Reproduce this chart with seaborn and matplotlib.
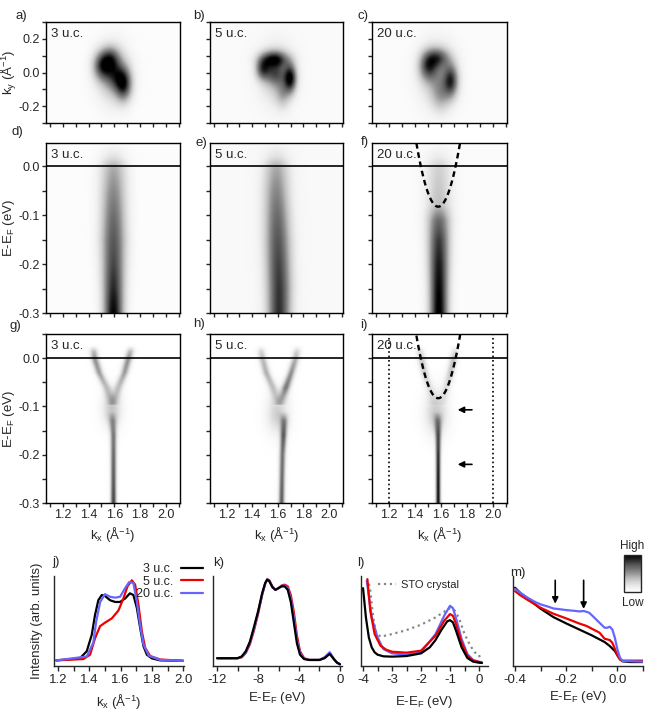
import numpy as np
import matplotlib
matplotlib.use('Agg')
import matplotlib.pyplot as plt
import seaborn as sns
from matplotlib import font_manager
from matplotlib.ticker import MultipleLocator, NullFormatter, FormatStrFormatter

sns.set_style('ticks')
installed = {f.name for f in font_manager.fontManager.ttflist}
base_font = 'Liberation Sans Narrow' if 'Liberation Sans Narrow' in installed else 'Liberation Sans'
plt.rcParams['font.family'] = [base_font, 'DejaVu Sans']
plt.rcParams['mathtext.fontset'] = 'custom'
plt.rcParams['mathtext.rm'] = base_font
plt.rcParams['mathtext.it'] = base_font + ':italic'
plt.rcParams['mathtext.default'] = 'regular'
plt.rcParams['axes.unicode_minus'] = False
plt.rcParams['font.size'] = 9.5

# ---------------- data ----------------
labels_uc = ['3 u.c.', '5 u.c.', '20 u.c.']

# constant energy maps: gaussian spots (kx, ky, sx, sy, amp)
a_kx = [1.59, 1.50, 1.57, 1.67, 1.60]
a_ky = [-0.01, 0.04, 0.085, -0.07, -0.02]
a_sx = [0.09, 0.05, 0.05, 0.045, 0.05]
a_sy = [0.12, 0.06, 0.05, 0.07, 0.06]
a_amp = [0.4, 0.6, 0.45, 0.7, 0.3]

b_kx = [1.59, 1.57, 1.48, 1.70, 1.58, 1.64]
b_ky = [-0.01, 0.08, 0.02, -0.035, -0.01, -0.13]
b_sx = [0.09, 0.075, 0.04, 0.035, 0.055, 0.04]
b_sy = [0.115, 0.035, 0.045, 0.06, 0.045, 0.06]
b_amp = [0.35, 0.7, 0.55, 0.8, 0.35, 0.25]

c_kx = [1.575, 1.50, 1.58, 1.68, 1.60]
c_ky = [-0.01, 0.04, 0.09, -0.05, -0.14]
c_sx = [0.095, 0.05, 0.06, 0.04, 0.05]
c_sy = [0.125, 0.06, 0.04, 0.07, 0.07]
c_amp = [0.38, 0.55, 0.45, 0.65, 0.25]

# raw band maps: band centre / width / intensity at energy nodes
d_e = [-0.3, -0.25, -0.2, -0.15, -0.1, -0.05, 0.0, 0.02, 0.045]
d_k = [1.59, 1.59, 1.59, 1.59, 1.59, 1.59, 1.59, 1.59, 1.59]
d_w = [0.055, 0.06, 0.065, 0.07, 0.07, 0.072, 0.075, 0.075, 0.075]
d_a = [0.97, 0.85, 0.76, 0.7, 0.62, 0.52, 0.4, 0.18, 0.04]

e_e = [-0.3, -0.25, -0.2, -0.15, -0.1, -0.05, 0.0, 0.02, 0.045]
e_k = [1.61, 1.61, 1.605, 1.60, 1.595, 1.59, 1.59, 1.59, 1.59]
e_w = [0.065, 0.068, 0.07, 0.072, 0.072, 0.072, 0.072, 0.072, 0.072]
e_a = [0.8, 0.78, 0.74, 0.68, 0.6, 0.5, 0.38, 0.16, 0.04]

f_e = [-0.3, -0.25, -0.2, -0.15, -0.11, -0.08, 0.0, 0.02, 0.045]
f_k = [1.585, 1.585, 1.585, 1.585, 1.585, 1.585, 1.585, 1.585, 1.585]
f_w = [0.05, 0.052, 0.056, 0.06, 0.065, 0.07, 0.072, 0.072, 0.072]
f_a = [1.0, 0.95, 0.88, 0.78, 0.62, 0.33, 0.25, 0.12, 0.03]

# second derivative maps: stem + two arms + blob
stem_e = [-0.3, -0.25, -0.2, -0.16, -0.13, -0.11]
g_stem_k = [1.59, 1.59, 1.59, 1.59, 1.585, 1.58]
g_stem_w = [0.016, 0.016, 0.017, 0.018, 0.022, 0.027]
g_stem_a = [0.8, 0.72, 0.66, 0.58, 0.36, 0.0]
h_stem_k = [1.63, 1.633, 1.637, 1.645, 1.65, 1.65]
h_stem_w = [0.017, 0.017, 0.018, 0.019, 0.022, 0.027]
h_stem_a = [0.7, 0.65, 0.62, 0.66, 0.42, 0.0]
i_stem_k = [1.58, 1.58, 1.58, 1.58, 1.578, 1.575]
i_stem_w = [0.013, 0.013, 0.014, 0.016, 0.021, 0.026]
i_stem_a = [0.95, 0.92, 0.84, 0.68, 0.38, 0.0]

arm_e = [-0.095, -0.06, -0.03, 0.0, 0.015, 0.028]
arm_w = [0.027, 0.025, 0.023, 0.023, 0.023, 0.023]
g_left_k = [1.575, 1.535, 1.48, 1.445, 1.438, 1.435]
g_left_a = [0.1, 0.33, 0.48, 0.52, 0.38, 0.0]
g_right_k = [1.595, 1.63, 1.675, 1.705, 1.72, 1.725]
g_right_a = [0.1, 0.33, 0.48, 0.52, 0.38, 0.0]
h_left_k = [1.60, 1.56, 1.51, 1.48, 1.47, 1.47]
h_left_a = [0.1, 0.33, 0.42, 0.38, 0.27, 0.0]
h_right_k = [1.625, 1.665, 1.705, 1.74, 1.75, 1.755]
h_right_a = [0.15, 0.58, 0.52, 0.42, 0.28, 0.0]
i_left_k = [1.545, 1.51, 1.475, 1.45, 1.44, 1.44]
i_left_a = [0.05, 0.18, 0.3, 0.33, 0.22, 0.0]
i_right_k = [1.615, 1.645, 1.675, 1.70, 1.71, 1.715]
i_right_a = [0.05, 0.2, 0.33, 0.35, 0.22, 0.0]
# blob (kx, E, sx, sE, amp) for g, h, i
blob_kx = [1.578, 1.60, 1.565]
blob_e = [-0.105, -0.115, -0.115]
blob_sx = [0.052, 0.062, 0.062]
blob_se = [0.027, 0.03, 0.032]
blob_amp = [0.34, 0.3, 0.32]

# parabola guide and arrows
para_k0, para_e0, para_c = 1.58, -0.083, 4.6
para_kmin, para_kmax = 1.40, 1.76
cut_k = [1.2, 2.0]
i_arrow_e = [-0.107, -0.22]
i_arrow_tip, i_arrow_tail = 1.73, 1.84

# j) MDCs
j_k_3 = [1.19, 1.34, 1.384, 1.416, 1.437, 1.458, 1.48, 1.50, 1.533, 1.565, 1.597, 1.629, 1.66,
         1.682, 1.704, 1.725, 1.746, 1.768, 1.80, 1.853, 2.0]
j_i_3 = [0.065, 0.088, 0.17, 0.36, 0.59, 0.76, 0.82, 0.81, 0.76, 0.74, 0.74, 0.78, 0.84,
         0.82, 0.67, 0.44, 0.23, 0.13, 0.088, 0.065, 0.06]
j_k_5 = [1.19, 1.362, 1.405, 1.437, 1.469, 1.50, 1.544, 1.586, 1.618, 1.644, 1.672, 1.693,
         1.714, 1.736, 1.757, 1.789, 1.853, 2.0]
j_i_5 = [0.065, 0.08, 0.13, 0.32, 0.46, 0.50, 0.55, 0.64, 0.78, 0.92, 0.99, 0.94,
         0.71, 0.40, 0.21, 0.115, 0.075, 0.06]
j_k_20 = [1.19, 1.384, 1.426, 1.445, 1.47, 1.50, 1.533, 1.565, 1.597, 1.629, 1.655, 1.682,
          1.704, 1.725, 1.746, 1.78, 1.853, 2.0]
j_i_20 = [0.065, 0.11, 0.27, 0.52, 0.74, 0.83, 0.80, 0.79, 0.80, 0.90, 0.97, 0.96,
          0.74, 0.47, 0.25, 0.12, 0.07, 0.06]

# k) wide EDCs
k_e = [-12, -10, -9.6, -9.2, -8.8, -8.4, -8.0, -7.6, -7.3, -7.1, -6.9, -6.6, -6.3, -6.0,
       -5.7, -5.4, -5.1, -4.8, -4.5, -4.2, -3.9, -3.5, -3.0, -2.0, -1.5, -1.0, -0.6, -0.3, 0.0]
k_i_3 = [0.09, 0.09, 0.11, 0.17, 0.28, 0.45, 0.63, 0.84, 0.96, 1.0, 0.98, 0.91, 0.88, 0.90,
         0.92, 0.92, 0.88, 0.74, 0.50, 0.26, 0.13, 0.08, 0.07, 0.07, 0.09, 0.14, 0.08, 0.04, 0.02]
k_i_5 = [0.09, 0.09, 0.10, 0.15, 0.25, 0.41, 0.60, 0.82, 0.95, 1.0, 0.99, 0.92, 0.88, 0.90,
         0.93, 0.94, 0.92, 0.82, 0.62, 0.35, 0.17, 0.09, 0.07, 0.07, 0.10, 0.15, 0.08, 0.04, 0.02]
k_i_20 = [0.09, 0.09, 0.105, 0.16, 0.27, 0.43, 0.62, 0.83, 0.955, 1.0, 0.985, 0.915, 0.88, 0.90,
          0.925, 0.93, 0.90, 0.78, 0.56, 0.30, 0.15, 0.085, 0.07, 0.07, 0.10, 0.16, 0.085, 0.04, 0.02]

# l) valence band EDCs
l_e_3 = [-4.0, -3.9, -3.8, -3.7, -3.6, -3.5, -3.3, -3.0, -2.5, -2.0, -1.7, -1.5, -1.3, -1.1,
         -1.0, -0.9, -0.8, -0.6, -0.4, -0.2, 0.0, 0.1]
l_i_3 = [0.90, 0.56, 0.33, 0.215, 0.158, 0.131, 0.112, 0.108, 0.115, 0.146, 0.215, 0.30, 0.415,
         0.515, 0.53, 0.504, 0.415, 0.215, 0.092, 0.05, 0.038, 0.035]
l_e_5 = [-3.85, -3.75, -3.6, -3.4, -3.2, -3.0, -2.5, -2.0, -1.5, -1.2, -1.0, -0.9, -0.8, -0.6,
         -0.4, -0.2, 0.0, 0.1]
l_i_5 = [1.004, 0.638, 0.369, 0.235, 0.188, 0.165, 0.154, 0.177, 0.35, 0.523, 0.60, 0.58, 0.492,
         0.273, 0.119, 0.062, 0.046, 0.038]
l_e_20 = [-3.87, -3.7, -3.5, -3.3, -3.0, -2.5, -2.0, -1.5, -1.2, -1.0, -0.9, -0.8, -0.6, -0.4,
          -0.2, 0.0, 0.1]
l_i_20 = [0.985, 0.562, 0.331, 0.196, 0.146, 0.131, 0.158, 0.369, 0.581, 0.696, 0.669, 0.562,
          0.312, 0.138, 0.069, 0.05, 0.042]
l_e_sto = [-3.8, -3.75, -3.65, -3.55, -3.4, -3.0, -2.5, -2.0, -1.5, -1.2, -1.0, -0.85, -0.7,
           -0.5, -0.3, -0.15, 0.0, 0.05]
l_i_sto = [0.95, 0.869, 0.562, 0.388, 0.338, 0.369, 0.415, 0.477, 0.562, 0.627, 0.669, 0.646,
           0.562, 0.369, 0.235, 0.158, 0.131, 0.062]

# m) near-EF EDCs
m_e_3 = [-0.4, -0.38, -0.35, -0.3, -0.25, -0.2, -0.15, -0.1, -0.05, -0.03, -0.01, 0.0, 0.01,
         0.02, 0.05, 0.1]
m_i_3 = [0.904, 0.846, 0.777, 0.662, 0.565, 0.492, 0.423, 0.354, 0.277, 0.231, 0.173, 0.123,
         0.077, 0.054, 0.046, 0.046]
m_e_5 = [-0.4, -0.38, -0.35, -0.3, -0.25, -0.2, -0.15, -0.12, -0.1, -0.07, -0.05, -0.03, -0.02,
         -0.01, 0.0, 0.01, 0.02, 0.1]
m_i_5 = [0.865, 0.819, 0.762, 0.673, 0.604, 0.55, 0.492, 0.462, 0.431, 0.385, 0.315, 0.30,
         0.269, 0.2, 0.123, 0.077, 0.062, 0.062]
m_e_20 = [-0.4, -0.38, -0.35, -0.32, -0.3, -0.27, -0.25, -0.22, -0.2, -0.17, -0.15, -0.13,
          -0.11, -0.09, -0.07, -0.05, -0.04, -0.03, -0.02, -0.01, 0.0, 0.01, 0.02, 0.1]
m_i_20 = [0.892, 0.846, 0.788, 0.738, 0.712, 0.685, 0.665, 0.654, 0.646, 0.638, 0.631, 0.635,
          0.615, 0.558, 0.50, 0.442, 0.442, 0.454, 0.423, 0.327, 0.192, 0.096, 0.058, 0.05]
m_arrow_e = [-0.243, -0.132]
m_arrow_tip = [0.72, 0.66]

colors = ['black', '#ee0000', '#6666ff']

# ---------------- figure ----------------
W, H = 664, 717
fig = plt.figure(figsize=(W / 100, H / 100), dpi=100)


def box(x0, y0, x1, y1):
    return fig.add_axes([x0 / W, 1 - y1 / H, (x1 - x0) / W, (y1 - y0) / H])


kx = np.linspace(1.07, 2.11, 209)
ky = np.linspace(-0.3, 0.3, 121)
en = np.linspace(-0.3, 0.05, 141)


def spots(kxs, kys, sxs, sys_, amps, bg):
    K, Y = np.meshgrid(kx, ky)
    img = np.full_like(K, bg)
    for cx, cy, sx, sy, a in zip(kxs, kys, sxs, sys_, amps):
        img += a * np.exp(-((K - cx) ** 2 / (2 * sx ** 2) + (Y - cy) ** 2 / (2 * sy ** 2)))
    return img


def band(e_n, k_n, w_n, a_n):
    c = np.interp(en, e_n, k_n)
    w = np.interp(en, e_n, w_n)
    a = np.interp(en, e_n, a_n, left=0, right=0)
    return a[:, None] * np.exp(-(kx[None, :] - c[:, None]) ** 2 / (2 * w[:, None] ** 2))


def blob2(cx, ce, sx, se, a):
    K, E = np.meshgrid(kx, en)
    return a * np.exp(-((K - cx) ** 2 / (2 * sx ** 2) + (E - ce) ** 2 / (2 * se ** 2)))


cols = [(46, 180), (210, 343), (372, 507)]
rows = [(22, 123), (143, 313), (334, 503)]


def style_image(ax, ylab=None, xlab=False):
    ax.tick_params(which='both', direction='out', width=1, length=3, labelsize=9, pad=1.5)
    ax.xaxis.set_major_locator(MultipleLocator(0.2))
    ax.xaxis.set_minor_locator(MultipleLocator(0.1))
    if not xlab:
        ax.xaxis.set_major_formatter(NullFormatter())
    if not ylab:
        ax.yaxis.set_major_formatter(NullFormatter())
    for s in ax.spines.values():
        s.set_linewidth(1)
        s.set_color('black')


def uc_label(ax, text):
    ax.annotate(text, xy=(0, 1), xycoords='axes fraction', xytext=(3.5, -4.5),
                textcoords='offset points', va='top', ha='left', fontsize=9.5)


# row 1
maps = [spots(a_kx, a_ky, a_sx, a_sy, a_amp, 0.02),
        spots(b_kx, b_ky, b_sx, b_sy, b_amp, 0.04),
        spots(c_kx, c_ky, c_sx, c_sy, c_amp, 0.03)]
for n, img in enumerate(maps):
    ax = box(cols[n][0], rows[0][0], cols[n][1], rows[0][1])
    ax.imshow(img, extent=[kx[0], kx[-1], ky[0], ky[-1]], origin='lower', aspect='auto',
              cmap='Greys', vmin=0, vmax=1, interpolation='bilinear')
    ax.set_xlim(1.07, 2.11)
    ax.set_ylim(-0.3, 0.3)
    ax.yaxis.set_major_locator(MultipleLocator(0.2))
    ax.yaxis.set_minor_locator(MultipleLocator(0.1))
    style_image(ax, ylab=(n == 0))
    uc_label(ax, labels_uc[n])
    if n == 0:
        ax.set_ylabel('k$_y$ (Å$^{-1}$)')
        ax.yaxis.set_label_coords(-0.205, 0.5)

# row 2
raw = [band(d_e, d_k, d_w, d_a) + 0.02,
       band(e_e, e_k, e_w, e_a) + 0.05,
       band(f_e, f_k, f_w, f_a) + 0.03]
# row 3
stems = [(g_stem_k, g_stem_w, g_stem_a), (h_stem_k, h_stem_w, h_stem_a), (i_stem_k, i_stem_w, i_stem_a)]
arms = [(g_left_k, g_left_a, g_right_k, g_right_a), (h_left_k, h_left_a, h_right_k, h_right_a),
        (i_left_k, i_left_a, i_right_k, i_right_a)]
deriv = []
for n in range(3):
    sk, sw, sa = stems[n]
    lk, la, rk, ra = arms[n]
    img = band(stem_e, sk, sw, sa) + band(arm_e, lk, arm_w, la) + band(arm_e, rk, arm_w, ra)
    img = img + blob2(blob_kx[n], blob_e[n], blob_sx[n], blob_se[n], blob_amp[n])
    deriv.append(img)

for r, imgs, top in [(1, raw, 0.047), (2, deriv, 0.05)]:
    for n, img in enumerate(imgs):
        ax = box(cols[n][0], rows[r][0], cols[n][1], rows[r][1])
        ax.imshow(img, extent=[kx[0], kx[-1], en[0], en[-1]], origin='lower', aspect='auto',
                  cmap='Greys', vmin=0, vmax=1, interpolation='bilinear')
        ax.axhline(0, color='black', lw=1.2)
        ax.set_xlim(1.07, 2.11)
        ax.set_ylim(-0.3, top)
        ax.yaxis.set_major_locator(MultipleLocator(0.1))
        ax.yaxis.set_minor_locator(MultipleLocator(0.05))
        style_image(ax, ylab=(n == 0), xlab=(r == 2))
        uc_label(ax, labels_uc[n])
        if n == 0:
            ax.set_ylabel('E-E$_F$ (eV)')
            ax.yaxis.set_label_coords(-0.215, 0.5)
        if r == 2:
            ax.set_xlabel('k$_x$ (Å$^{-1}$)', labelpad=3)
        if n == 2:
            ks = np.linspace(para_kmin, para_kmax, 80)
            ax.plot(ks, para_e0 + para_c * (ks - para_k0) ** 2, color='black', lw=1.7,
                    dashes=(2.4, 1.6))
        if r == 2 and n == 2:
            for c in cut_k:
                ax.axvline(c, color='black', lw=1.2, ls=':')
            for e in i_arrow_e:
                ax.annotate('', xy=(i_arrow_tip, e), xytext=(i_arrow_tail, e),
                            arrowprops=dict(arrowstyle='-|>', color='black', lw=1.2,
                                            mutation_scale=9, shrinkA=0, shrinkB=0))

# bottom row
bottom = [(54, 184), (213, 342), (361, 488), (513, 643)]
axj, axk, axl, axm = [box(x0, 576, x1, 666) for x0, x1 in bottom]

for xs, ys, c, lab in zip([j_k_3, j_k_5, j_k_20], [j_i_3, j_i_5, j_i_20], colors, labels_uc):
    sns.lineplot(x=xs, y=ys, ax=axj, color=c, lw=1.6, label=lab, sort=False, estimator=None)
for ys, c in zip([k_i_5, k_i_20, k_i_3], [colors[1], colors[2], colors[0]]):
    sns.lineplot(x=k_e, y=ys, ax=axk, color=c, lw=1.6, sort=False, estimator=None)
sns.lineplot(x=l_e_sto, y=l_i_sto, ax=axl, color='#888888', lw=1.6, ls=':', label='STO crystal',
             sort=False, estimator=None)
for xs, ys, c in zip([l_e_20, l_e_5, l_e_3], [l_i_20, l_i_5, l_i_3], [colors[2], colors[1], colors[0]]):
    sns.lineplot(x=xs, y=ys, ax=axl, color=c, lw=1.6, sort=False, estimator=None)
for xs, ys, c in zip([m_e_3, m_e_5, m_e_20], [m_i_3, m_i_5, m_i_20], colors):
    sns.lineplot(x=xs, y=ys, ax=axm, color=c, lw=1.6, sort=False, estimator=None)
for e, tip in zip(m_arrow_e, m_arrow_tip):
    axm.annotate('', xy=(e, tip), xytext=(e, 0.99),
                 arrowprops=dict(arrowstyle='-|>', color='black', lw=1.2, mutation_scale=9,
                                 shrinkA=0, shrinkB=0))

axj.set_xlim(1.175, 2.005)
axk.set_xlim(-12.4, 0.2)
axl.set_xlim(-4.07, 0.31)
axm.set_xlim(-0.408, 0.1)
axj.xaxis.set_major_locator(MultipleLocator(0.2))
axj.xaxis.set_minor_locator(MultipleLocator(0.1))
axk.xaxis.set_major_locator(MultipleLocator(4))
axk.xaxis.set_minor_locator(MultipleLocator(2))
axl.xaxis.set_major_locator(MultipleLocator(1))
axl.xaxis.set_minor_locator(MultipleLocator(0.5))
axm.xaxis.set_major_locator(MultipleLocator(0.2))
axm.xaxis.set_minor_locator(MultipleLocator(0.1))
for ax in [axj, axk, axl, axm]:
    ax.set_ylim(0, 1.04)
    ax.set_yticks([])
    ax.set_ylabel('')
    sns.despine(ax=ax)
    for s in ax.spines.values():
        s.set_linewidth(1)
    ax.tick_params(which='both', direction='out', width=1, length=3.5, labelsize=9.5, pad=2)
axj.xaxis.set_major_formatter(FormatStrFormatter('%.1f'))
axm.xaxis.set_major_formatter(FormatStrFormatter('%.1f'))

axj.set_xlabel('k$_x$ (Å$^{-1}$)')
axj.xaxis.set_label_coords(0.5, -26 / 90)
axj.set_ylabel('Intensity (arb. units)')
axj.yaxis.set_label_coords(-0.085, 0.5)
for ax, off in [(axk, -24), (axl, -28), (axm, -23)]:
    ax.set_xlabel('E-E$_F$ (eV)')
    ax.xaxis.set_label_coords(0.5, off / 90)

axj.legend(loc='upper right', bbox_to_anchor=(203 / W, 1 - 563 / H), bbox_transform=fig.transFigure,
           markerfirst=False, frameon=False, fontsize=9, handlelength=1.8, handletextpad=0.6,
           labelspacing=0.05, borderpad=0, borderaxespad=0)
axl.legend(loc='upper left', bbox_to_anchor=(378 / W, 1 - 580 / H), bbox_transform=fig.transFigure,
           frameon=False, fontsize=8, handlelength=1.6, handletextpad=0.5, borderpad=0, borderaxespad=0)

# colour scale
cax = box(624, 555, 641, 592)
cb = fig.colorbar(plt.cm.ScalarMappable(cmap='Greys'), cax=cax, ticks=[])
cb.outline.set_linewidth(1)
fig.text(632.5 / W, 1 - 546 / H, 'High', ha='center', va='center', fontsize=8.5)
fig.text(632.5 / W, 1 - 603 / H, 'Low', ha='center', va='center', fontsize=8.5)

# panel letters
letters = ['a)', 'b)', 'c)', 'd)', 'e)', 'f)', 'g)', 'h)', 'i)', 'j)', 'k)', 'l)', 'm)']
letter_x = [16, 193, 358, 12, 196, 361, 10, 193, 360, 52, 213, 357, 510]
letter_y = [16, 16, 16, 132, 143, 142, 326, 324, 325, 562, 563, 563, 573]
for t, x, y in zip(letters, letter_x, letter_y):
    fig.text(x / W, 1 - y / H, t, ha='left', va='center', fontsize=9.5)

fig.savefig('out.png', dpi=100)
